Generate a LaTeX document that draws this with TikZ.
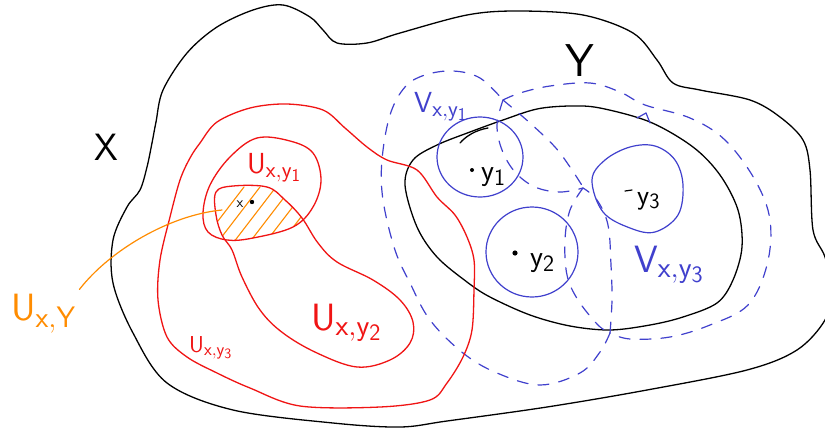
\RequirePackage{fix-cm}
\documentclass[tikz,border=0pt]{standalone}
\renewcommand\defaultscriptratio{.78}
\renewcommand\defaultscriptscriptratio{.62}
\definecolor{inkred}{RGB}{240,20,20}
\definecolor{inkblue}{RGB}{64,64,205}
\definecolor{inkorange}{RGB}{255,140,0}
\tikzset{
  outline/.style={line width=1.3pt, line cap=round, line join=round},
  nbhd/.style={outline, inkblue, line width=1.2pt, dash pattern=on 11pt off 10pt},
  lbl/.style={inner sep=0pt, anchor=base west},
}
\newcommand\fs[1]{\fontsize{#1}{#1}\selectfont}
\begin{document}
\begin{tikzpicture}[x=1pt,y=-1pt]
\clip (0,0) rectangle (825,429);
\fill[white] (0,0) rectangle (825,429);

% outer set X
\draw[outline] plot[smooth cycle, tension=0.55] coordinates {
  (152,143) (156,122) (163,90) (187,53) (217,27) (253,10) (283,5) (310,17)
  (323,30) (337,43) (367,43) (400,33) (467,15) (517,11) (583,15) (633,33)
  (657,60) (673,83) (700,90) (750,100) (780,117) (803,140) (810,170)
  (813,230) (825,257) (832,290) (825,320) (797,350) (747,370) (647,390)
  (547,407) (447,421) (400,427) (333,423) (233,410) (167,383) (133,333)
  (113,283) (113,240) (127,207) (140,190) (147,167)};

% subset Y
\draw[outline] plot[smooth cycle, tension=0.55] coordinates {
  (405,185) (413,160) (437,145) (470,132) (503,120) (537,109) (570,106)
  (600,108) (650,122) (693,147) (720,175) (738,210) (742,247) (733,280)
  (717,303) (683,317) (650,325) (610,330) (570,326) (530,315) (490,297)
  (467,282) (437,257) (417,227)};
\draw[outline] (460,143) .. controls (466,136) and (476,130) .. (488,128);

% neighbourhoods of the points y_i
\draw[outline, inkblue, line width=1.2pt] (480,157) ellipse [x radius=43, y radius=40];
\draw[outline, inkblue, line width=1.2pt] (532,252) ellipse [x radius=46, y radius=45];
\draw[outline, inkblue, line width=1.2pt] plot[smooth cycle, tension=0.6] coordinates {
  (592,180) (605,160) (630,147) (655,146) (675,160) (683,185) (678,215)
  (655,232) (630,228) (603,212)};

% dashed sets V
\draw[nbhd] plot[smooth, tension=0.6] coordinates {
  (610,333) (600,352) (580,373) (540,385) (497,373) (463,353) (430,320)
  (410,283) (395,250) (383,200) (382,160) (390,115) (405,87) (425,75)
  (453,71) (480,78) (503,100)};
\draw[nbhd] plot[smooth, tension=0.6] coordinates {
  (503,100) (530,123) (555,147) (570,167) (583,187)};
\draw[nbhd] plot[smooth, tension=0.6] coordinates {
  (503,100) (497,125) (502,150) (515,172) (535,187) (560,192) (583,188)};
\draw[nbhd] plot[smooth, tension=0.6] coordinates {
  (583,188) (570,210) (565,240) (567,275) (578,300) (598,325) (610,333)};
\draw[nbhd] plot[smooth, tension=0.6] coordinates {
  (503,100) (520,93) (550,86) (590,83) (620,92) (645,105) (690,118)
  (725,140) (755,180) (770,220) (767,265) (748,305) (710,325) (670,337)
  (630,339) (610,333)};
\draw[nbhd] plot[smooth, tension=0.6] coordinates {
  (610,333) (612,300) (611,265) (608,225) (597,200) (583,188)};
\draw[outline, inkblue, line width=1.2pt] (637,118) -- (646,113) -- (650,123);

% sets U
\draw[outline, inkred] plot[smooth cycle, tension=0.55] coordinates {
  (200,143) (217,122) (250,108) (287,104) (323,110) (345,128) (367,147)
  (387,160) (417,170) (437,197) (455,215) (467,237) (474,260) (474,290)
  (472,330) (463,357) (447,383) (430,400) (380,407) (300,406) (250,388)
  (217,373) (187,357) (167,337) (158,300) (160,260) (170,217) (180,180)
  (190,158)};
\def\uone{plot[smooth cycle, tension=0.6] coordinates {
  (203,213) (210,185) (230,157) (257,138) (290,141) (313,153) (321,180)
  (313,207) (293,227) (253,238) (227,240) (208,232)}}
\def\utwo{plot[smooth cycle, tension=0.6] coordinates {
  (216,192) (233,186) (267,187) (285,200) (302,218) (318,243) (337,262)
  (373,280) (400,300) (413,322) (410,343) (390,360) (357,367) (317,353)
  (283,333) (260,310) (242,277) (232,250) (222,235) (216,215)}}
\begin{scope}
  \clip \uone;
  \clip \utwo;
  \foreach \s in {198,214,230,246,262,278,294}
    \draw[outline, inkorange, line width=1.1pt] (\s,247) -- (\s+46,187);
\end{scope}
\draw[outline, inkred] \uone;
\draw[outline, inkred] \utwo;

% the point x
\node[inner sep=0pt, font=\fs{15}\sffamily] (ptx) at (240,204) {x};
\fill (252,202) circle (2.2);

% points of Y
\fill (472,170) circle (2);
\fill (515,253) circle (2.6);
\draw[outline, line width=1.2pt] (625,191) -- (632,190);
\node[lbl, font=\fs{30}] (y1) at (481,180) {$\mathsf{y}_{\mathsf 1}$};
\node[lbl, font=\fs{30}] (y2) at (530,266) {$\mathsf{y}_{\mathsf 2}$};
\node[lbl, font=\fs{28}] (y3) at (637,204) {$\mathsf{y}_{\mathsf 3}$};

% set names
\node[inner sep=0pt, font=\fs{38}\sffamily] (labX) at (106,147) {X};
\node[inner sep=0pt, font=\fs{46}\sffamily] (labY) at (580,61) {Y};

\node[lbl, text=inkred, font=\fs{29}] (u1) at (247,173) {$\mathsf{U}_{\mathsf{x,y_1}}$};
\node[lbl, text=inkred, font=\fs{38}] (u2) at (311,330) {$\mathsf{U}_{\mathsf{x,y_2}}$};
\node[lbl, text=inkred, font=\fs{23}] (u3) at (189,352) {$\mathsf{U}_{\mathsf{x,y_3}}$};
\node[lbl, text=inkorange, font=\fs{38}] (uY) at (11,320) {$\mathsf{U}_{\mathsf{x,Y}}$};
\node[lbl, text=inkblue, font=\fs{29}] (v1) at (414,112) {$\mathsf{V}_{\mathsf{x,y_1}}$};
\node[lbl, text=inkblue, font=\fs{38}] (v3) at (634,272) {$\mathsf{V}_{\mathsf{x,y_3}}$};

% pointer from U_{x,Y} to the shaded part
\coordinate (hatch) at (222,210);
\draw[outline, inkorange, line width=1.2pt] (uY.north east) ++(3,-4)
  .. controls (110,250) and (170,215) .. (hatch);
\end{tikzpicture}
\end{document}
